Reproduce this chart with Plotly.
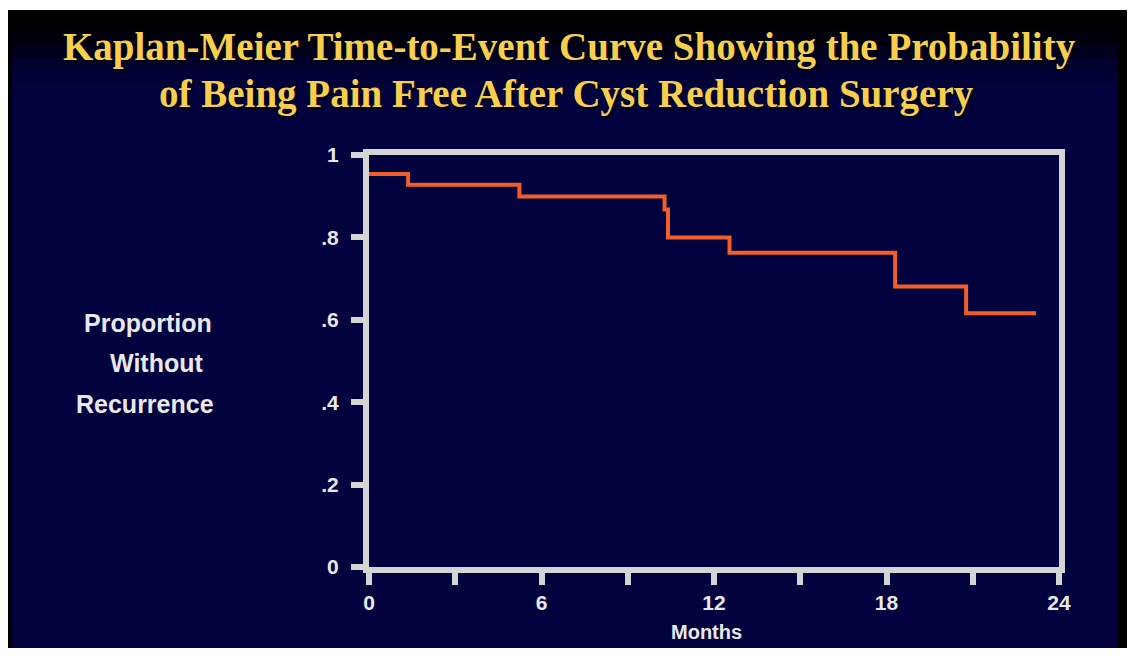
import plotly.graph_objects as go

# ---- data ----
months = [0, 1.36, 5.23, 10.28, 10.4, 12.54, 18.3, 20.77, 23.2]
proportion = [0.954, 0.928, 0.899, 0.868, 0.80, 0.763, 0.681, 0.616, 0.616]
x_tick_vals = [0, 3, 6, 9, 12, 15, 18, 21, 24]
x_tick_text = ["0", "", "6", "", "12", "", "18", "", "24"]
y_tick_vals = [0, 0.2, 0.4, 0.6, 0.8, 1.0]
y_tick_text = ["0", ".2", ".4", ".6", ".8", "1"]

OFF = 8  # page body margin
W, H = 1127, 648
L, R, T, B = 361, 76, 147, 89
PW, PH = W - L - R, H - T - B

def px(x):  # screen pixel -> paper
    return (x - OFF - L) / PW

def py(y):
    return (H - B - (y - OFF)) / PH

NAVY = "#02023f"
FRAME = "#d4d4d4"

fig = go.Figure()
fig.add_trace(go.Scatter(
    x=months, y=proportion, mode="lines",
    line=dict(color="#f25e2a", width=4, shape="hv"),
    hoverinfo="skip", showlegend=False,
))

shapes = []
shapes.append(dict(type="rect", xref="paper", yref="paper", x0=px(8), x1=px(1135), y0=py(648), y1=py(10),
                   fillcolor="#000000", line=dict(width=0), layer="below"))
shapes.append(dict(type="rect", xref="paper", yref="paper", x0=px(12), x1=px(1118), y0=py(648), y1=py(10),
                   fillcolor=NAVY, line=dict(width=0), layer="below"))
bands = [(10, 30, 1.0), (30, 45, 0.8), (45, 58, 0.55), (58, 72, 0.3), (72, 85, 0.12)]
for y0, y1, op in bands:
    shapes.append(dict(type="rect", xref="paper", yref="paper", x0=px(12), x1=px(1118), y0=py(y1), y1=py(y0),
                       fillcolor="#000000", opacity=op, line=dict(width=0), layer="below"))

title_font = dict(family="Liberation Serif, Times New Roman, serif", size=39, color="#f7cf4e",
                  shadow="2px 2px 2px #000000")
annotations = [
    dict(text="<b>Kaplan-Meier Time-to-Event Curve Showing the Probability</b>", x=px(569), y=py(47),
         xref="paper", yref="paper", showarrow=False, xanchor="center", yanchor="middle", font=title_font),
    dict(text="<b>of Being Pain Free After Cyst Reduction Surgery</b>", x=px(566), y=py(94),
         xref="paper", yref="paper", showarrow=False, xanchor="center", yanchor="middle", font=title_font),
    dict(text="<b>Months</b>", x=px(706), y=py(632), xref="paper", yref="paper", showarrow=False,
         xanchor="center", yanchor="middle",
         font=dict(family="Liberation Sans, Arial, sans-serif", size=20, color="#e8e8e8")),
]
ylab_font = dict(family="Liberation Sans, Arial, sans-serif", size=25, color="#e8e8e8")
for txt, cx, cy in [("Proportion", 148, 323), ("Without", 156, 363), ("Recurrence", 145, 404)]:
    annotations.append(dict(text="<b>" + txt + "</b>", x=px(cx), y=py(cy), xref="paper", yref="paper",
                            showarrow=False, xanchor="center", yanchor="middle", font=ylab_font))

tick_font = dict(family="Liberation Sans, Arial, sans-serif", size=21, color="#e8e8e8", weight="bold")

fig.update_layout(
    width=W, height=H,
    margin=dict(l=L, r=R, t=T, b=B, pad=0),
    paper_bgcolor="#ffffff",
    plot_bgcolor="rgba(0,0,0,0)",
    shapes=shapes,
    annotations=annotations,
    xaxis=dict(
        range=[0, 24], tickmode="array", tickvals=x_tick_vals, ticktext=x_tick_text,
        showgrid=False, zeroline=False, showline=True, linecolor=FRAME, linewidth=6, mirror=True,
        ticks="outside", ticklen=12, tickwidth=6, tickcolor=FRAME,
        tickfont=tick_font,
        fixedrange=True,
    ),
    yaxis=dict(
        range=[0, 1], tickmode="array", tickvals=y_tick_vals, ticktext=y_tick_text,
        showgrid=False, zeroline=False, showline=True, linecolor=FRAME, linewidth=6, mirror=True,
        ticks="outside", ticklen=12, tickwidth=6, tickcolor=FRAME, ticklabelstandoff=8,
        tickfont=tick_font,
        fixedrange=True,
    ),
)

fig.write_html("out.html")
